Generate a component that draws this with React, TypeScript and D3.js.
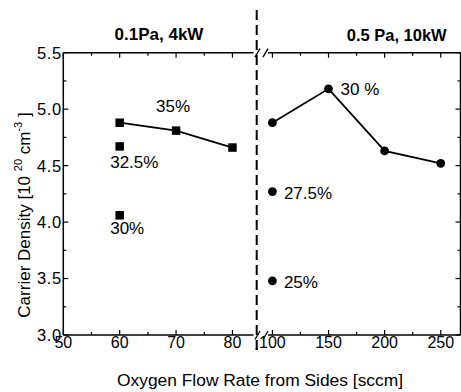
import { useEffect, useRef } from 'react';
import * as d3 from 'd3';

// Values
const leftFlow = [60, 70, 80];
const leftDensity = [4.88, 4.81, 4.66];
const leftExtraFlow = [60, 60];
const leftExtraDensity = [4.67, 4.06];
const leftExtraLabels = ['32.5%', '30%'];

const rightFlow = [100, 150, 200, 250];
const rightDensity = [4.88, 5.18, 4.63, 4.52];
const rightExtraFlow = [100, 100];
const rightExtraDensity = [4.27, 3.48];
const rightExtraLabels = ['27.5%', '25%'];

const leftMajorTicks = [50, 60, 70, 80];
const leftMinorTicks = [55, 65, 75];
const rightMajorTicks = [100, 150, 200, 250];
const rightMinorTicks = [125, 175, 225];
const yMajorTicks = [3.0, 3.5, 4.0, 4.5, 5.0, 5.5];
const yMinorTicks = [3.25, 3.75, 4.25, 4.75, 5.25];

const WIDTH = 461;
const HEIGHT = 392;
const FONT = '"Liberation Sans", Arial, Helvetica, sans-serif';

export default function App() {
  const svgRef = useRef<SVGSVGElement>(null);

  useEffect(() => {
    if (!svgRef.current) return;
    const svg = d3.select(svgRef.current);
    svg.selectAll('*').remove();

    const plotLeft = 63.3;
    const plotRight = 460.5;
    const plotTop = 52.7;
    const plotBottom = 335;
    const breakX = 256.7;

    // broken x axis: two linear pieces
    const xLeft = d3.scaleLinear().domain([50, 84.3]).range([plotLeft, breakX]);
    const xRight = d3.scaleLinear().domain([86, 267.6]).range([breakX, plotRight]);
    const y = d3.scaleLinear().domain([3, 5.5]).range([plotBottom, plotTop]);

    const g = svg.append('g');
    const stroke = '#000';

    // frame, with a gap on top and bottom where the break is
    const gapA = 253.5;
    const gapB = 268;
    [plotTop, plotBottom].forEach((yy) => {
      g.append('line').attr('x1', plotLeft).attr('x2', gapA).attr('y1', yy).attr('y2', yy)
        .attr('stroke', stroke).attr('stroke-width', 1.5);
      g.append('line').attr('x1', gapB).attr('x2', plotRight).attr('y1', yy).attr('y2', yy)
        .attr('stroke', stroke).attr('stroke-width', 1.5);
      // break marks
      [255, 263].forEach((x0) => {
        g.append('line').attr('x1', x0).attr('y1', yy + 4.5).attr('x2', x0 + 5).attr('y2', yy - 4)
          .attr('stroke', stroke).attr('stroke-width', 1.3);
      });
    });
    g.append('line').attr('x1', plotLeft).attr('x2', plotLeft).attr('y1', plotTop).attr('y2', plotBottom)
      .attr('stroke', stroke).attr('stroke-width', 1.5);
    g.append('line').attr('x1', plotRight).attr('x2', plotRight).attr('y1', plotTop).attr('y2', plotBottom)
      .attr('stroke', stroke).attr('stroke-width', 1.5);

    // x ticks (inward, top and bottom)
    const xTicks = (scale: d3.ScaleLinear<number, number>, values: number[], len: number) => {
      values.forEach((v) => {
        const xx = scale(v);
        g.append('line').attr('x1', xx).attr('x2', xx).attr('y1', plotBottom).attr('y2', plotBottom - len)
          .attr('stroke', stroke).attr('stroke-width', 1.2);
        g.append('line').attr('x1', xx).attr('x2', xx).attr('y1', plotTop).attr('y2', plotTop + len)
          .attr('stroke', stroke).attr('stroke-width', 1.2);
      });
    };
    xTicks(xLeft, leftMajorTicks, 5);
    xTicks(xLeft, leftMinorTicks, 3);
    xTicks(xRight, rightMajorTicks, 5);
    xTicks(xRight, rightMinorTicks, 3);

    // y ticks (inward, left and right)
    const yTicks = (values: number[], len: number) => {
      values.forEach((v) => {
        const yy = y(v);
        g.append('line').attr('x1', plotLeft).attr('x2', plotLeft + len).attr('y1', yy).attr('y2', yy)
          .attr('stroke', stroke).attr('stroke-width', 1.2);
        g.append('line').attr('x1', plotRight).attr('x2', plotRight - len).attr('y1', yy).attr('y2', yy)
          .attr('stroke', stroke).attr('stroke-width', 1.2);
      });
    };
    yTicks(yMajorTicks, 5);
    yTicks(yMinorTicks, 3);

    // tick labels
    const xLabels = [
      ...leftMajorTicks.map((v) => ({ v, x: xLeft(v) })),
      ...rightMajorTicks.map((v) => ({ v, x: xRight(v) })),
    ];
    g.selectAll('text.xtick')
      .data(xLabels)
      .join('text')
      .attr('class', 'xtick')
      .attr('x', (d) => d.x)
      .attr('y', plotBottom + 12.5)
      .attr('text-anchor', 'middle')
      .attr('font-family', FONT)
      .attr('font-size', 16)
      .text((d) => d.v);

    // little dot left of the 100 label
    g.append('rect').attr('x', breakX - 1).attr('y', plotBottom + 13).attr('width', 2).attr('height', 2).attr('fill', stroke);

    g.selectAll('text.ytick')
      .data(yMajorTicks)
      .join('text')
      .attr('class', 'ytick')
      .attr('x', plotLeft - 1.5)
      .attr('y', (d) => y(d))
      .attr('dy', '0.36em')
      .attr('text-anchor', 'end')
      .attr('font-family', FONT)
      .attr('font-size', 16.5)
      .attr('letter-spacing', 0.6)
      .text((d) => d.toFixed(1));

    // dashed break line
    g.append('line')
      .attr('x1', breakX).attr('x2', breakX).attr('y1', 10).attr('y2', 352)
      .attr('stroke', stroke).attr('stroke-width', 2).attr('stroke-dasharray', '10,5');

    // data lines
    const lineL = d3.line<number>().x((_, i) => xLeft(leftFlow[i])).y((d) => y(d));
    const lineR = d3.line<number>().x((_, i) => xRight(rightFlow[i])).y((d) => y(d));
    g.append('path').datum(leftDensity).attr('d', lineL).attr('fill', 'none').attr('stroke', stroke).attr('stroke-width', 1.8);
    g.append('path').datum(rightDensity).attr('d', lineR).attr('fill', 'none').attr('stroke', stroke).attr('stroke-width', 1.8);

    // squares (left)
    const sq = 8.5;
    const squares = [
      ...leftDensity.map((d, i) => ({ x: xLeft(leftFlow[i]), y: y(d) })),
      ...leftExtraDensity.map((d, i) => ({ x: xLeft(leftExtraFlow[i]), y: y(d) })),
    ];
    g.selectAll('rect.sq')
      .data(squares)
      .join('rect')
      .attr('class', 'sq')
      .attr('x', (d) => d.x - sq / 2)
      .attr('y', (d) => d.y - sq / 2)
      .attr('width', sq)
      .attr('height', sq)
      .attr('fill', stroke);

    // circles (right)
    const circles = [
      ...rightDensity.map((d, i) => ({ x: xRight(rightFlow[i]), y: y(d) })),
      ...rightExtraDensity.map((d, i) => ({ x: xRight(rightExtraFlow[i]), y: y(d) })),
    ];
    g.selectAll('circle.pt')
      .data(circles)
      .join('circle')
      .attr('class', 'pt')
      .attr('cx', (d) => d.x)
      .attr('cy', (d) => d.y)
      .attr('r', 4.4)
      .attr('fill', stroke);

    // annotations
    const label = (x: number, yy: number, text: string) =>
      g.append('text').attr('x', x).attr('y', yy).attr('font-family', FONT).attr('font-size', 17).text(text);

    label(xLeft(70) - 20, y(leftDensity[1]) - 18.5, '35%');
    leftExtraDensity.forEach((d, i) => {
      const dy = i === 0 ? 22 : 18.5;
      label(xLeft(leftExtraFlow[i]) - 9.5, y(d) + dy, leftExtraLabels[i]);
    });
    label(xRight(150) + 12, y(rightDensity[1]) + 6, '30 %');
    rightExtraDensity.forEach((d, i) => {
      label(xRight(rightExtraFlow[i]) + 11.5, y(d) + 7, rightExtraLabels[i]);
    });

    // condition titles
    g.append('text').attr('x', 159).attr('y', 40).attr('text-anchor', 'middle')
      .attr('font-family', FONT).attr('font-weight', 'bold').attr('font-size', 17).text('0.1Pa, 4kW');
    g.append('text').attr('x', 396.7).attr('y', 40.5).attr('text-anchor', 'middle')
      .attr('font-family', FONT).attr('font-weight', 'bold').attr('font-size', 16.5).text('0.5 Pa, 10kW');

    // axis titles
    g.append('text').attr('x', 260).attr('y', 386).attr('text-anchor', 'middle')
      .attr('font-family', FONT).attr('font-size', 17.4).text('Oxygen Flow Rate from Sides [sccm]');

    const yt = g.append('text')
      .attr('transform', 'translate(29.5,215) rotate(-90)')
      .attr('text-anchor', 'middle')
      .attr('font-family', FONT)
      .attr('font-size', 17);
    yt.append('tspan').text('Carrier Density [10 ');
    yt.append('tspan').attr('font-size', 11).attr('dy', -8).text('20');
    yt.append('tspan').attr('dy', 8).text(' cm');
    yt.append('tspan').attr('font-size', 11).attr('dy', -8).text('-3');
    yt.append('tspan').attr('dy', 8).text(' ]');
  }, []);

  return (
    <svg
      ref={svgRef}
      width={WIDTH}
      height={HEIGHT}
      style={{ position: 'absolute', left: 0, top: 0, background: '#fff' }}
    />
  );
}
